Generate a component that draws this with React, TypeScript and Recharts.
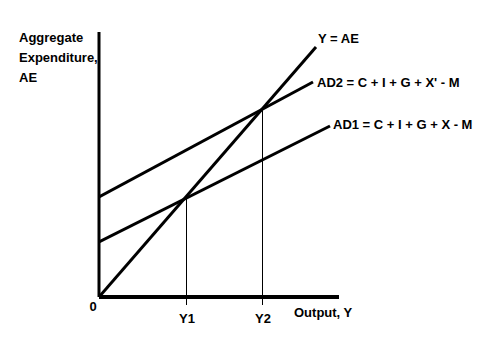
import React from 'react';
import { LineChart, Line, XAxis, YAxis, Label, ReferenceLine } from 'recharts';

// data units: origin at 0,0; Y1/Y2 are the two equilibrium outputs
const X_DOMAIN = [0, 240];
const Y_DOMAIN = [0, 265];
const X_TICKS = [0, 87, 163];
const X_TICK_LABELS = ['0', 'Y1', 'Y2'];

const yEqualsAe = [
  { x: 0, y: 0 },
  { x: 217, y: 250 },
];
const ad2 = [
  { x: 0, y: 100 },
  { x: 214, y: 215 },
];
const ad1 = [
  { x: 0, y: 55 },
  { x: 231, y: 171 },
];
const dropY1 = [
  { x: 87, y: -8 },
  { x: 87, y: 100 },
];
const dropY2 = [
  { x: 163, y: -8 },
  { x: 163, y: 189 },
];

const FONT = '"Liberation Sans", Arial, sans-serif';

const endLabel = (text: string, dx: number, dy: number) => (props: any) => {
  if (props.index !== 1) return null;
  return (
    <text
      x={props.x + dx}
      y={props.y + dy}
      fontSize={13}
      fontWeight="bold"
      fontFamily={FONT}
      fill="#000"
      dominantBaseline="central"
    >
      {text}
    </text>
  );
};

const XTick = ({ x, y, payload, index }: any) => {
  const isZero = payload.value === 0;
  return (
    <text
      x={isZero ? x - 6 : x + 1}
      y={isZero ? y + 1 : y + 13}
      textAnchor="middle"
      dominantBaseline="central"
      fontSize={13}
      fontWeight="bold"
      fontFamily={FONT}
      fill="#000"
    >
      {X_TICK_LABELS[index]}
    </text>
  );
};

const App = () => {
  return (
    <div style={{ position: 'absolute', left: 0, top: 0, background: '#fff' }}>
      <LineChart
        width={494}
        height={347}
        margin={{ top: 32, right: 155, bottom: 20, left: 39 }}
      >
        <XAxis
          type="number"
          dataKey="x"
          domain={X_DOMAIN}
          ticks={X_TICKS}
          allowDataOverflow
          tick={<XTick />}
          tickLine={false}
          axisLine={{ stroke: '#000', strokeWidth: 4 }}
          height={30}
        >
          <Label
            content={({ viewBox }: any) => (
              <text
                x={viewBox.x + 195}
                y={viewBox.y + 15}
                fontSize={13}
                fontWeight="bold"
                fontFamily={FONT}
                fill="#000"
                dominantBaseline="central"
              >
                Output, Y
              </text>
            )}
          />
        </XAxis>
        <YAxis
          type="number"
          dataKey="y"
          domain={Y_DOMAIN}
          allowDataOverflow
          tick={false}
          tickLine={false}
          axisLine={{ stroke: '#000', strokeWidth: 3 }}
          width={60}
        >
          <Label
            content={() => (
              <text fontSize={13} fontWeight="bold" fontFamily={FONT} fill="#000">
                <tspan x={19} y={42}>Aggregate</tspan>
                <tspan x={19} y={62}>Expenditure,</tspan>
                <tspan x={19} y={82}>AE</tspan>
              </text>
            )}
          />
        </YAxis>
        {[dropY1, dropY2].map((seg, i) => (
          <ReferenceLine
            key={i}
            segment={seg}
            ifOverflow="visible"
            stroke="#000"
            strokeWidth={1}
            shapeRendering="crispEdges"
          />
        ))}
        <Line
          data={yEqualsAe}
          dataKey="y"
          stroke="#000"
          strokeWidth={3}
          dot={false}
          isAnimationActive={false}
          label={endLabel('Y = AE', 2, -9)}
        />
        <Line
          data={ad2}
          dataKey="y"
          stroke="#000"
          strokeWidth={3}
          dot={false}
          isAnimationActive={false}
          label={endLabel("AD2 = C + I + G + X' - M", 4, 0)}
        />
        <Line
          data={ad1}
          dataKey="y"
          stroke="#000"
          strokeWidth={3}
          dot={false}
          isAnimationActive={false}
          label={endLabel('AD1 = C + I + G + X - M', 3, -2)}
        />
      </LineChart>
    </div>
  );
};

export default App;
